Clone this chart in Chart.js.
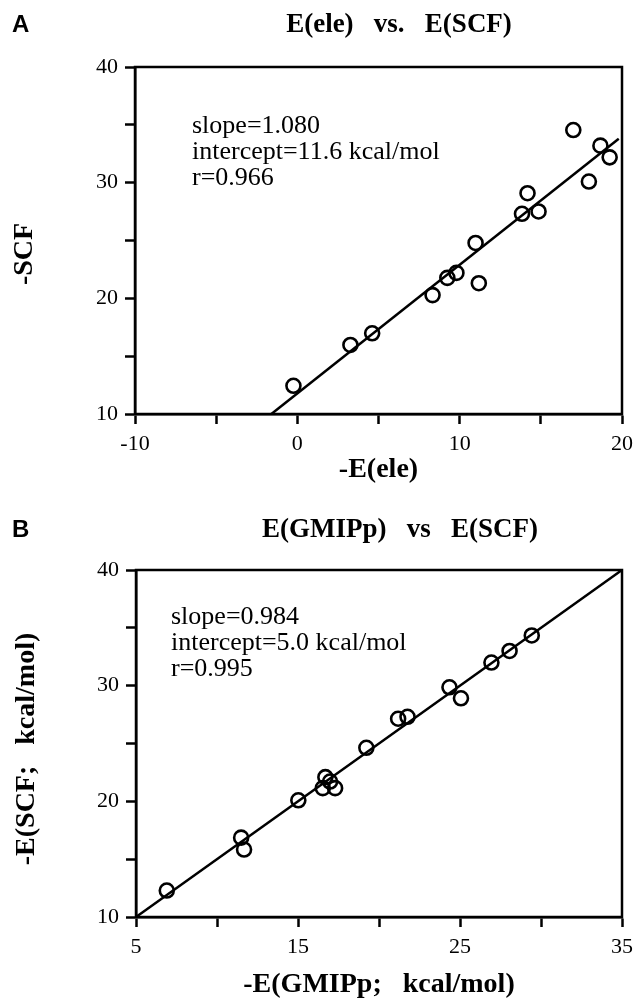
<!DOCTYPE html>
<html>
<head>
<meta charset="utf-8">
<title>E(ele) vs E(SCF) / E(GMIPp) vs E(SCF)</title>
<script src="https://cdn.jsdelivr.net/npm/chart.js@4.4.1/dist/chart.umd.min.js"></script>
<style>
  html, body { margin: 0; padding: 0; background: #fff; }
  #wrap { position: relative; width: 640px; height: 998px; }
  canvas { position: absolute; left: 0; }
  #chartA { top: 0; }
  #chartB { top: 500px; }
</style>
</head>
<body>
<div id="wrap">
  <canvas id="chartA" width="640" height="500"></canvas>
  <canvas id="chartB" width="640" height="498"></canvas>
</div>
<script>
// ================= DATA =================

// panel A: -E(ele) vs -SCF
const eleX   = [-0.24, 3.27, 4.61, 8.33, 9.24, 9.80, 11.18, 10.98, 13.84, 14.18, 14.86, 17.0, 17.96, 18.67, 19.24];
const eleScf = [12.44, 15.97, 16.98, 20.28, 21.77, 22.20, 21.31, 24.79, 27.31, 29.09, 27.51, 34.55, 30.10, 33.20, 32.19];
const fitAX  = [-1.6, 19.8];
const fitAY  = [10, 33.8];
const xTicksA = [-10, 0, 10, 20];
const yTicksA = [10, 20, 30, 40];
const notesA  = ["slope=1.080", "intercept=11.6 kcal/mol", "r=0.966"];

// panel B: -E(GMIPp) vs -E(SCF)
const gmipX   = [6.90, 11.49, 11.67, 15.02, 16.53, 16.69, 16.98, 17.29, 19.22, 21.18, 21.76, 24.35, 25.06, 26.94, 28.06, 29.43];
const gmipScf = [12.29, 16.86, 15.83, 20.09, 21.14, 22.09, 21.71, 21.14, 24.63, 27.14, 27.31, 29.86, 28.91, 32.0, 33.0, 34.34];
const fitBX   = [5, 35];
const fitBY   = [10, 40];
const xTicksB = [5, 15, 25, 35];
const yTicksB = [10, 20, 30, 40];
const notesB  = ["slope=0.984", "intercept=5.0 kcal/mol", "r=0.995"];

Chart.defaults.font.family = "'Liberation Serif', 'Times New Roman', serif";
Chart.defaults.color = "#000";

// ================= PLUGINS =================

const framePlugin = {
  id: "frame",
  afterDraw(chart) {
    const a = chart.chartArea;
    const ctx = chart.ctx;
    ctx.save();
    ctx.strokeStyle = "#000";
    ctx.lineWidth = 2.5;
    ctx.strokeRect(a.left, a.top, a.right - a.left, a.bottom - a.top);
    ctx.restore();
  }
};

const textPlugin = {
  id: "panelText",
  afterDraw(chart, args, o) {
    const ctx = chart.ctx;
    const a = chart.chartArea;
    ctx.save();
    ctx.fillStyle = "#000";

    ctx.font = "bold 24px 'Liberation Sans'";
    ctx.textAlign = "left";
    ctx.textBaseline = "alphabetic";
    ctx.fillText(o.letter, 12, o.letterY);

    ctx.font = "bold 27px 'Liberation Serif'";
    ctx.textAlign = "center";
    ctx.fillText(o.title, o.titleX, o.titleY);

    ctx.font = "26px 'Liberation Serif'";
    ctx.textAlign = "left";
    o.notes.forEach((t, i) => ctx.fillText(t, o.notesX, o.notesY + i * 26));

    ctx.font = "bold 28px 'Liberation Serif'";
    ctx.textAlign = "center";
    ctx.textBaseline = "middle";
    ctx.fillText(o.xTitle, (a.left + a.right) / 2, o.xTitleY);

    ctx.translate(o.yTitleX, o.yTitleY);
    ctx.rotate(-Math.PI / 2);
    ctx.fillText(o.yTitle, 0, 0);
    ctx.restore();
  }
};

// ================= CHART =================

function axis(min, max, labels, fit) {
  return {
    type: "linear",
    min: min,
    max: max,
    afterFit: fit,
    border: { display: true, color: "#000", width: 2.5 },
    grid: { drawOnChartArea: false, drawTicks: true, tickLength: 10, tickColor: "#000", tickWidth: 2.5, color: "#000" },
    ticks: {
      stepSize: 5,
      padding: 7,
      font: { size: 22 },
      color: "#000",
      maxRotation: 0,
      autoSkip: false,
      callback: v => labels.includes(v) ? String(v) : ""
    }
  };
}

function makeChart(id, p) {
  const pts = p.xs.map((x, i) => ({ x: x, y: p.ys[i] }));
  const fit = p.fitX.map((x, i) => ({ x: x, y: p.fitY[i] }));

  return new Chart(document.getElementById(id), {
    type: "scatter",
    data: {
      datasets: [
        {
          type: "line",
          data: fit,
          borderColor: "#000",
          borderWidth: 2.5,
          pointRadius: 0,
          fill: false
        },
        {
          data: pts,
          pointStyle: "circle",
          pointRadius: 7,
          pointBorderWidth: 2.6,
          borderColor: "#000",
          backgroundColor: "rgba(0,0,0,0)",
          clip: false
        }
      ]
    },
    options: {
      responsive: false,
      animation: false,
      devicePixelRatio: 1,
      layout: { padding: { top: p.top, right: p.right, left: 0, bottom: 0 } },
      plugins: {
        legend: { display: false },
        tooltip: { enabled: false },
        panelText: p.text
      },
      scales: {
        x: axis(p.xMin, p.xMax, p.xTicks, s => { s.height = p.xHeight; }),
        y: axis(p.yMin, p.yMax, p.yTicks, s => { s.width = p.yWidth; })
      }
    },
    plugins: [framePlugin, textPlugin]
  });
}

makeChart("chartA", {
  xs: eleX, ys: eleScf, fitX: fitAX, fitY: fitAY,
  xMin: -10, xMax: 20, yMin: 10, yMax: 40,
  xTicks: xTicksA, yTicks: yTicksA,
  top: 67, right: 12, yWidth: 135, xHeight: 86,
  text: {
    letter: "A", letterY: 32,
    title: "E(ele)   vs.   E(SCF)", titleX: 399, titleY: 32,
    notes: notesA, notesX: 192, notesY: 133,
    xTitle: "-E(ele)", xTitleY: 470,
    yTitle: "-SCF", yTitleX: 25, yTitleY: 254
  }
});

makeChart("chartB", {
  xs: gmipX, ys: gmipScf, fitX: fitBX, fitY: fitBY,
  xMin: 5, xMax: 35, yMin: 10, yMax: 40,
  xTicks: xTicksB, yTicks: yTicksB,
  top: 70, right: 10, yWidth: 136, xHeight: 81,
  text: {
    letter: "B", letterY: 37,
    title: "E(GMIPp)   vs   E(SCF)", titleX: 400, titleY: 37,
    notes: notesB, notesX: 171, notesY: 124,
    xTitle: "-E(GMIPp;   kcal/mol)", xTitleY: 485,
    yTitle: "-E(SCF;   kcal/mol)", yTitleX: 27, yTitleY: 249
  }
});
</script>
</body>
</html>
